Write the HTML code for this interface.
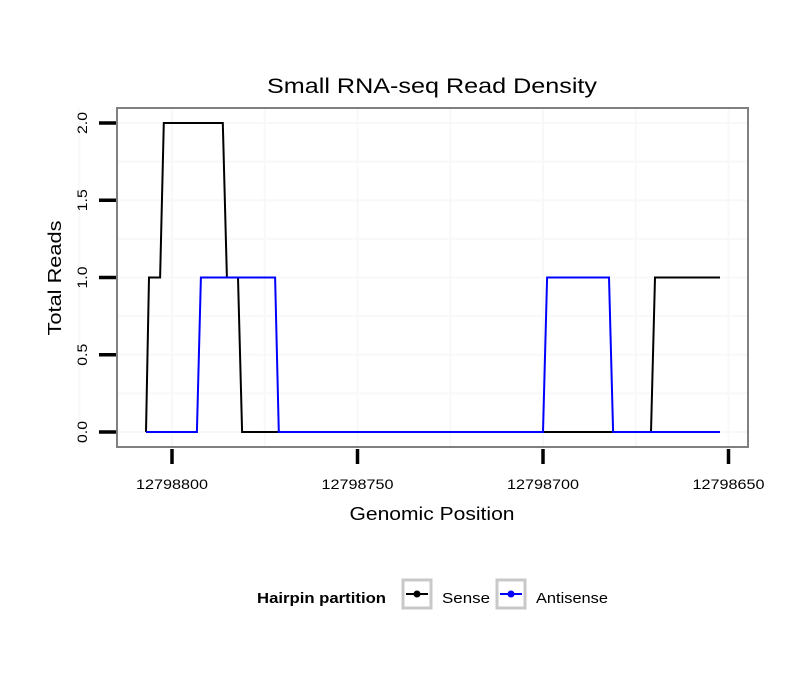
<!DOCTYPE html>
<html><head><meta charset="utf-8"><style>body{margin:0;background:#fff}svg{display:block;font-family:"Liberation Sans",sans-serif}</style></head>
<body>
<svg id="c" width="810" height="690"></svg>
<script>
const senseX=[12798807,12798806.2,12798803.2,12798802.2,12798786.3,12798785.2,12798782.2,12798781.1,12798670.9,12798669.8,12798652.3];
const senseY=[0,1,1,2,2,1,1,0,0,1,1];
const antiX=[12798807,12798793.3,12798792.2,12798772.2,12798771.2,12798700,12798698.9,12798682.2,12798681.1,12798652.3];
const antiY=[0,0,1,1,0,0,1,1,0,0];
const xTicks=[12798800,12798750,12798700,12798650];
const yTicks=[0,0.5,1,1.5,2];
const yTickLabels=["0.0","0.5","1.0","1.5","2.0"];
const X=v=>172+(12798800-v)*3.71;
const Y=v=>432-v*154.5;
const svg=document.getElementById('c');
const NS='http://www.w3.org/2000/svg';
function mk(t,a,txt){const e=document.createElementNS(NS,t);for(const k in a)e.setAttribute(k,a[k]);if(txt!=null)e.textContent=txt;svg.appendChild(e);return e;}
function tx(a,txt,len){a.textLength=len;a.lengthAdjust='spacingAndGlyphs';return mk('text',a,txt);}
let e;
e=mk('rect',{x:117,y:108,width:631,height:339,fill:'#fff'});


[12798825,12798775,12798725,12798675].forEach(v=>{e=mk('line',{x1:X(v),x2:X(v),y1:108,y2:447,stroke:'#f8f8f8','stroke-width':2});

});
xTicks.forEach(v=>{e=mk('line',{x1:X(v),x2:X(v),y1:108,y2:447,stroke:'#f8f8f8','stroke-width':2});

});
[0.25,0.75,1.25,1.75].concat(yTicks).forEach(v=>{e=mk('line',{x1:117,x2:748,y1:Y(v),y2:Y(v),stroke:'#f8f8f8','stroke-width':2});

});
function line(xs,ys,col,name){const p=xs.map((x,i)=>X(x).toFixed(1)+','+Y(ys[i]).toFixed(1)).join(' ');
e=mk('polyline',{points:p,fill:'none',stroke:col,'stroke-width':2});

}
line(senseX,senseY,'#000','sense-line');
line(antiX,antiY,'#0000ff','antisense-line');
e=mk('rect',{x:117,y:108,width:631,height:339,fill:'none',stroke:'#808080','stroke-width':2});


xTicks.forEach(v=>{e=mk('line',{x1:X(v),x2:X(v),y1:449,y2:464,stroke:'#000','stroke-width':3.5});


e=tx({x:X(v),y:489,'text-anchor':'middle','font-size':13.5},String(v),72);

});
yTicks.forEach((v,i)=>{e=mk('line',{x1:99,x2:116,y1:Y(v),y2:Y(v),stroke:'#000','stroke-width':3.5});


e=tx({x:0,y:0,'text-anchor':'middle','font-size':13.5,transform:`translate(87,${Y(v)}) rotate(-90)`},yTickLabels[i],22);

});
e=tx({x:432,y:93,'text-anchor':'middle','font-size':21},'Small RNA-seq Read Density',330);


e=tx({x:432,y:520,'text-anchor':'middle','font-size':18},'Genomic Position',165);


e=tx({x:0,y:0,'text-anchor':'middle','font-size':18,transform:'translate(61,278) rotate(-90)'},'Total Reads',115);


e=tx({x:257,y:603,'font-size':14.5,'font-weight':'bold'},'Hairpin partition',129);


[[403,'#000','Sense','legend-sense',48],[497,'#0000ff','Antisense','legend-antisense',72]].forEach(([x,c,t,n,w])=>{
e=mk('rect',{x:x,y:580,width:28,height:28,fill:'#fff',stroke:'#c8c8c8','stroke-width':3});


mk('line',{x1:x+3,x2:x+25,y1:594,y2:594,stroke:c,'stroke-width':2});
mk('circle',{cx:x+14,cy:594,r:3.5,fill:c});
e=tx({x:x+39,y:603,'font-size':14.5},t,w);

});
</script>
</body></html>
